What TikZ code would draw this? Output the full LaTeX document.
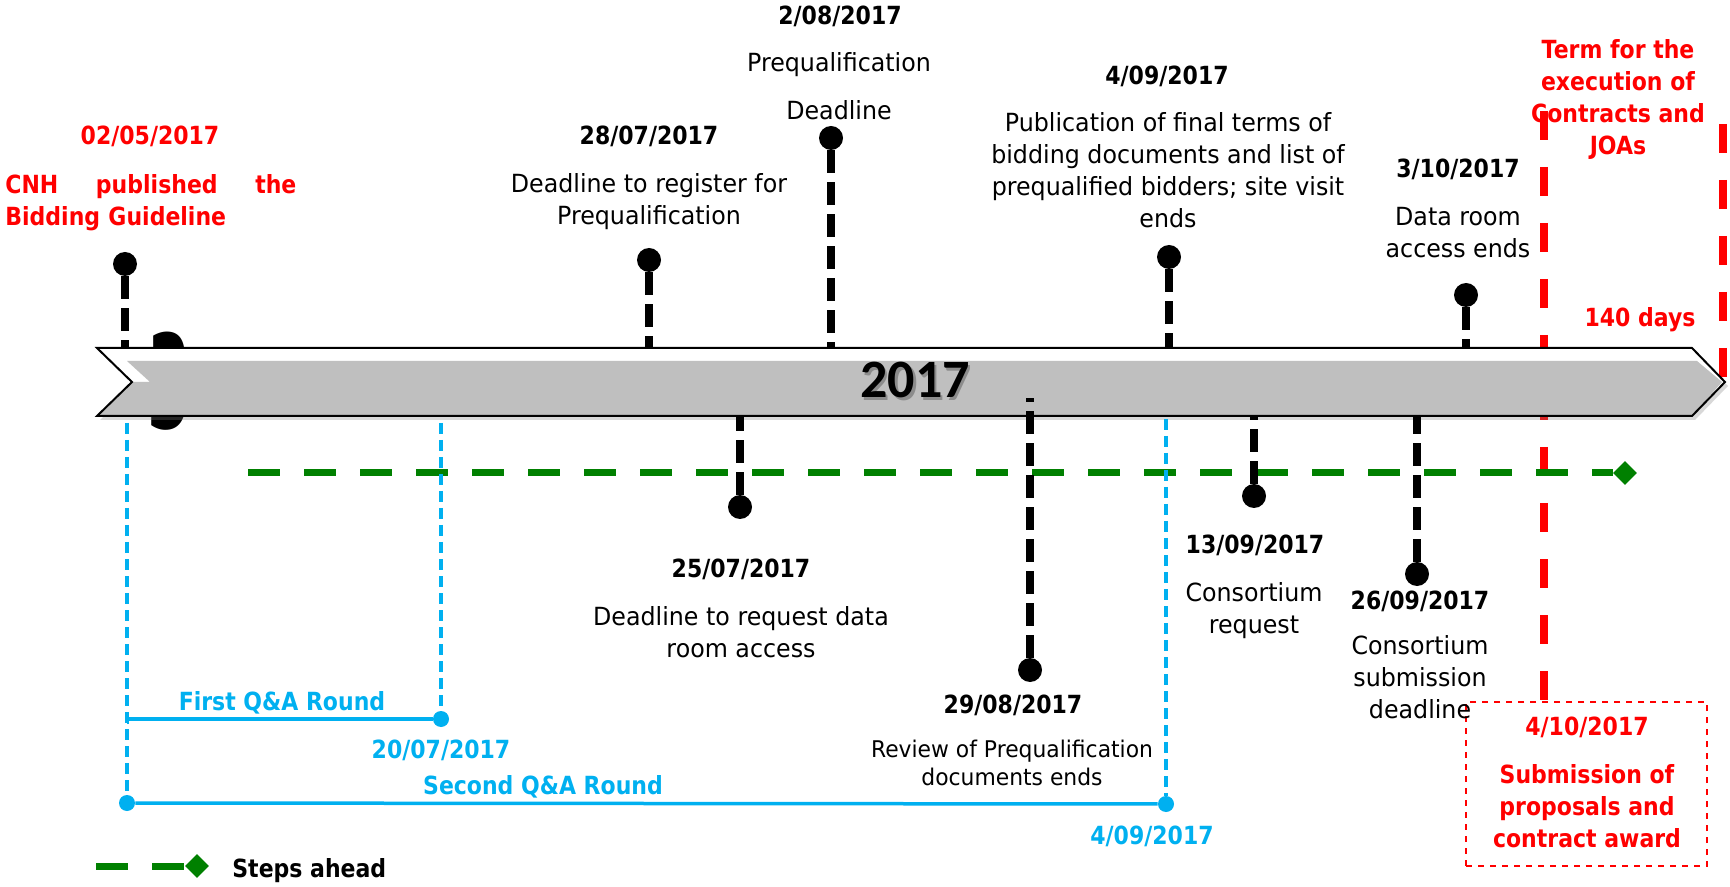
\documentclass[tikz,border=0pt]{standalone}
\usepackage{fontspec}
\setmainfont{DejaVu Sans}[UprightFeatures={FakeStretch=0.95},BoldFeatures={FakeStretch=0.88}]
\newfontfamily\yearfont{Carlito}
\usetikzlibrary{shapes.geometric,shadows,arrows.meta}
\definecolor{cnhred}{RGB}{255,0,0}
\definecolor{qablue}{RGB}{0,176,240}
\definecolor{stepgreen}{RGB}{0,128,0}
\definecolor{bandgray}{RGB}{191,191,191}
\tikzset{
  evdate/.style={anchor=base,inner sep=0pt,font=\fontsize{12.5}{16}\selectfont\bfseries},
  evtext/.style={anchor=base,inner sep=0pt,align=center,font=\fontsize{12.5}{16}\selectfont},
  evdot/.style={circle,fill=black,inner sep=0pt,minimum size=12pt},
  evstem/.style={line width=4pt,dash pattern=on 11.5pt off 4.5pt},
  qadot/.style={circle,fill=qablue,inner sep=0pt,minimum size=8pt},
  qaline/.style={qablue,line width=1.75pt},
  qadash/.style={qablue,line width=1.75pt,dash pattern=on 5.5pt off 3pt},
  stepmark/.style={diamond,fill=stepgreen,inner sep=0pt,minimum size=12pt},
  steps/.style={stepgreen,line width=3.5pt,dash pattern=on 16pt off 12pt},
  termline/.style={cnhred,line width=4pt,dash pattern=on 14.5pt off 13.5pt}
}
\begin{document}
\begin{tikzpicture}[x=0.5pt,y=-0.5pt]
  \useasboundingbox (0,0) rectangle (1730,887);
  \fill[white] (0,0) rectangle (1730,887);
  \coordinate (bandtop) at (0,348);
  \coordinate (bandbot) at (0,416);
  % leftover digit behind the band
  \node[inner sep=0pt,xscale=0.55,font=\fontsize{65}{65}\selectfont\bfseries] (ghost) at (169,381) {3};
  % term lines
  \node[draw=cnhred,dashed,line width=0.8pt,minimum width=120.5pt,minimum height=82pt,inner sep=0pt] (award) at (1586.5,784) {};
  \coordinate (r1top) at (1544,111);
  \coordinate (r2top) at (1723,98);
  \coordinate (r2bot) at (1723,381);
  \draw[termline] (r1top) -- (award.north -| r1top);
  \draw[termline,dash phase=15pt] (r2top) -- (r2bot);
  % the 2017 band
  \path[fill=white,drop shadow={shadow xshift=1.5pt,shadow yshift=-2pt,opacity=0.3}]
    (97,348) -- (1692,348) -- (1725,382) -- (1692,416) -- (97,416) -- (132,382) -- cycle;
  \fill[bandgray] (127,361) -- (1697,361) -- (1722,382) -- (1692,416) -- (97,416) -- (132,382) -- (150,382) -- cycle;
  \draw[line width=1pt] (97,348) -- (1692,348) -- (1725,382) -- (1692,416) -- (97,416) -- (132,382) -- cycle;
  \node[text=black!45,font=\yearfont\bfseries\fontsize{27}{27}\selectfont] (yearshadow) at (917.5,382.5) {2017};
  \node[font=\yearfont\bfseries\fontsize{27}{27}\selectfont] (year) at (915,380) {2017};
  % steps ahead
  \coordinate (gstart) at (248,473);
  \node[stepmark] (gend) at (1625,473) {};
  \draw[steps] (gstart) -- (gend);
  % Q&A rounds
  \coordinate (v1) at (127,423);
  \coordinate (v2) at (441,423);
  \coordinate (v3) at (1166,419);
  \coordinate (q1start) at (127,719);
  \node[qadot] (q1end) at (441,719) {};
  \node[qadot] (q2start) at (127,803) {};
  \node[qadot] (q2end) at (1166,804) {};
  \draw[qadash] (v1) -- (q2start);
  \draw[qadash] (v2) -- (q1end);
  \draw[qadash] (v3) -- (q2end);
  \draw[qaline,{Bar[width=5pt,line width=1pt]}-] (q1start) -- (q1end);
  \draw[qaline] (q2start) -- (q2end);
  \node[evdate,text=qablue] (l1) at (282,710) {First Q\&A Round};
  \node[evdate,text=qablue] (l2) at (441,758) {20/07/2017};
  \node[evdate,text=qablue] (l3) at (543,794) {Second Q\&A Round};
  \node[evdate,text=qablue] (l4) at (1152,844) {4/09/2017};
  % events above the band
  \node[evdot] (p0205) at (125,264) {};
  \node[evdot] (p2807) at (649,260) {};
  \node[evdot] (p0208) at (831,138) {};
  \node[evdot] (p0409) at (1169,257) {};
  \node[evdot] (p0310) at (1466,295) {};
  \foreach \p in {p0205,p2807,p0208,p0409,p0310}
    \draw[evstem] (\p) -- (\p |- bandtop);
  % events below the band
  \coordinate (in2908) at (1030,398);
  \node[evdot] (p2507) at (740,507) {};
  \node[evdot] (p2908) at (1030,670) {};
  \node[evdot] (p1309) at (1254,496) {};
  \node[evdot] (p2609) at (1417,574) {};
  \draw[evstem] (p2507) -- (p2507 |- bandbot);
  \draw[evstem] (p2908) -- (in2908);
  \draw[evstem] (p1309) -- (p1309 |- bandbot);
  \draw[evstem] (p2609) -- (p2609 |- bandbot);
  % labels (multi-line texts sit on the baseline of their last line)
  \node[evdate,text=cnhred] (t0205) at (150,145) {02/05/2017};
  \node[evtext,anchor=base west,align=left,text width=145.5pt,text=cnhred,font=\fontsize{12.5}{16}\selectfont\bfseries] (x0205) at (5,194)
    {\hbox to 145.5pt{CNH\hfill published\hfill the}\\Bidding Guideline};
  \node[evdate] (t2807) at (649,145) {28/07/2017};
  \node[evtext] (x2807) at (649,225) {Deadline to register for\\Prequalification};
  \node[evdate] (t0208) at (840,25) {2/08/2017};
  \node[evtext] (x0208) at (839,120) {Prequalification\\[8pt]Deadline};
  \node[evdate] (t0409) at (1167,85) {4/09/2017};
  \node[evtext] (x0409) at (1168,228) {Publication of final terms of\\bidding documents and list of\\prequalified bidders; site visit\\ends};
  \node[evdate] (t0310) at (1458,178) {3/10/2017};
  \node[evtext] (x0310) at (1458,258) {Data room\\access ends};
  \node[evdate] (t2507) at (741,577) {25/07/2017};
  \node[evtext] (x2507) at (741,657) {Deadline to request data\\room access};
  \node[evdate] (t2908) at (1013,713) {29/08/2017};
  \node[evtext,font=\fontsize{11.5}{14}\selectfont] (x2908) at (1012,785) {Review of Prequalification\\documents ends};
  \node[evdate] (t1309) at (1255,553) {13/09/2017};
  \node[evtext] (x1309) at (1254,633) {Consortium\\request};
  \node[evdate] (t2609) at (1420,609) {26/09/2017};
  \node[evtext] (x2609) at (1420,718) {Consortium\\submission\\deadline};
  \node[evdate,align=center,text=cnhred] (term) at (1618,155) {Term for the\\execution of\\Contracts and\\JOAs};
  \node[evdate,text=cnhred] (days) at (1640,327) {140 days};
  \node[evdate,text=cnhred] (t0410) at (1587,735) {4/10/2017};
  \node[evdate,align=center,text=cnhred] (x0410) at (1587,847) {Submission of\\proposals and\\contract award};
  % legend
  \coordinate (lg1) at (96,866);
  \node[stepmark] (lg2) at (197,866) {};
  \draw[steps] (lg1) -- (lg2);
  \node[evdate,anchor=base west] (lgtext) at (232,877) {Steps ahead};
\end{tikzpicture}
\end{document}
